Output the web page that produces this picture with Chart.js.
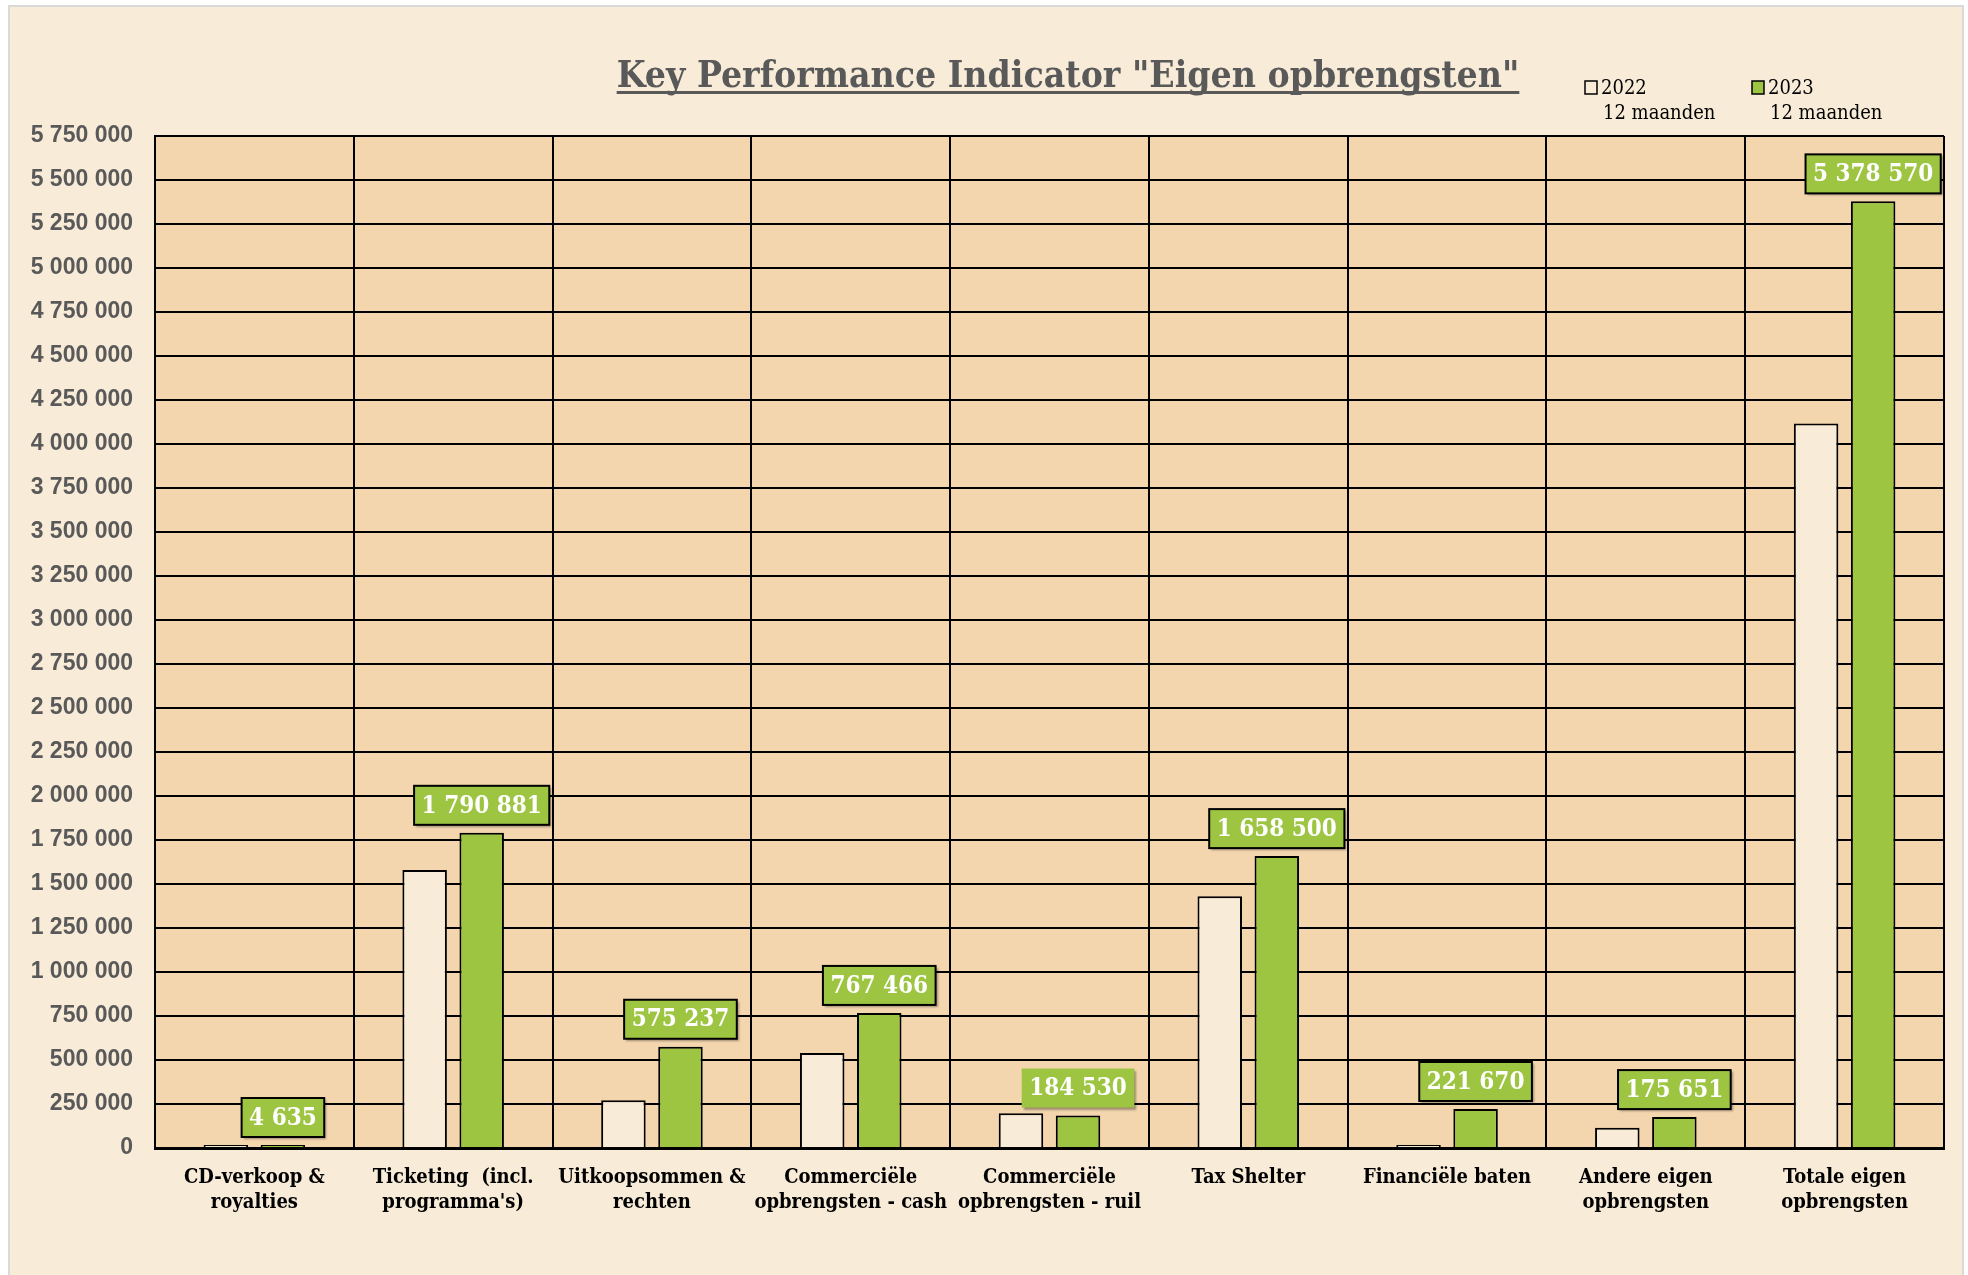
<!DOCTYPE html>
<html>
<head>
<meta charset="utf-8">
<script src="https://cdn.jsdelivr.net/npm/chart.js@4/dist/chart.umd.min.js"></script>
<style>
  html, body { margin: 0; padding: 0; background: #ffffff; }
  #frame {
    position: absolute; left: 8px; top: 5px; width: 1952px; height: 1290px;
    background: #F8EBD8; border: 2px solid #D9D9D9; border-bottom: none;
  }
  #kpi { position: absolute; left: 0; top: 0; }
</style>
</head>
<body>
<div id="frame"></div>
<canvas id="kpi" width="1968" height="1275"></canvas>
<script>
// categorieën en waarden
const categories = [
  ['CD-verkoop &', 'royalties'],
  ['Ticketing  (incl.', "programma's)"],
  ['Uitkoopsommen &', 'rechten'],
  ['Commerciële', 'opbrengsten - cash'],
  ['Commerciële', 'opbrengsten - ruil'],
  'Tax Shelter',
  'Financiële baten',
  ['Andere eigen', 'opbrengsten'],
  ['Totale eigen', 'opbrengsten']
];
const seriesNames = ['2022', '2023'];
const seriesSub = ['12 maanden', '12 maanden'];
const values2022 = [3000, 1579500, 272000, 540000, 197000, 1430000, 2000, 115000, 4116000];
const values2023 = [4635, 1790881, 575237, 767466, 184530, 1658500, 221670, 175651, 5378570];
const yMax = 5750000;
const yStep = 250000;
const chartTitle = 'Key Performance Indicator "Eigen opbrengsten"';

const CREAM = '#F8EBD8';
const TAN = '#F3D5AE';
const GREEN = '#9DC542';
const GREY = '#595959';
const SLAB = "'DejaVu Serif Condensed', 'DejaVu Serif', serif";

// getal met spatie als duizendtal-scheiding
function fmt(v) {
  return Math.round(v).toString().replace(/\B(?=(\d{3})+(?!\d))/g, ' ');
}

// achtergrond van het plotgebied
const plotBackground = {
  id: 'plotBackground',
  beforeDraw(chart) {
    const { ctx, chartArea: a } = chart;
    ctx.save();
    ctx.fillStyle = TAN;
    ctx.fillRect(a.left, a.top, a.right - a.left, a.bottom - a.top);
    ctx.restore();
  }
};

// groene labels boven de 2023-staven
const valueBoxes = {
  id: 'valueBoxes',
  afterDatasetsDraw(chart) {
    const ctx = chart.ctx;
    const meta = chart.getDatasetMeta(1);
    ctx.save();
    ctx.font = "bold 24px " + SLAB;
    if ('fontStretch' in ctx) ctx.fontStretch = 'condensed';
    ctx.textAlign = 'center';
    ctx.textBaseline = 'middle';
    meta.data.forEach((bar, i) => {
      const txt = fmt(values2023[i]);
      const w = ctx.measureText(txt).width + 15;
      const h = 39;
      const x = bar.x - w / 2;
      const y = bar.y - 8 - h;
      ctx.shadowColor = 'rgba(0,0,0,0.35)';
      ctx.shadowOffsetX = 2;
      ctx.shadowOffsetY = 2;
      ctx.shadowBlur = 2;
      ctx.fillStyle = GREEN;
      ctx.fillRect(x, y, w, h);
      ctx.shadowColor = 'transparent';
      if (i !== 4) {
        ctx.strokeStyle = '#000';
        ctx.lineWidth = 2;
        ctx.strokeRect(x, y, w, h);
      }
      ctx.fillStyle = '#ffffff';
      ctx.fillText(txt, bar.x, y + h / 2 + 1);
    });
    ctx.restore();
  }
};

// titel en legende
const titleLegend = {
  id: 'titleLegend',
  afterDraw(chart) {
    const ctx = chart.ctx;
    ctx.save();
    if ('fontStretch' in ctx) ctx.fontStretch = 'condensed';
    ctx.font = "bold 37px " + SLAB;
    ctx.fillStyle = GREY;
    ctx.textAlign = 'left';
    ctx.textBaseline = 'alphabetic';
    const tw = ctx.measureText(chartTitle).width;
    const tx = 1068 - tw / 2;
    ctx.fillText(chartTitle, tx, 87);
    ctx.fillRect(tx, 91, tw, 3);

    const fills = [CREAM, GREEN];
    const boxX = [1585, 1752];
    ctx.font = "20px " + SLAB;
    seriesNames.forEach((name, i) => {
      ctx.fillStyle = fills[i];
      ctx.fillRect(boxX[i], 81, 12, 13);
      ctx.strokeStyle = '#000';
      ctx.lineWidth = 1.5;
      ctx.strokeRect(boxX[i], 81, 12, 13);
      ctx.fillStyle = '#000';
      ctx.fillText(name, boxX[i] + 16, 94);
      ctx.fillText(seriesSub[i], boxX[i] + 18, 119);
    });
    ctx.restore();
  }
};

new Chart(document.getElementById('kpi'), {
  type: 'bar',
  data: {
    labels: categories,
    datasets: [
      {
        label: seriesNames[0],
        data: values2022,
        backgroundColor: CREAM,
        borderColor: '#000',
        borderWidth: 2,
        minBarLength: 3
      },
      {
        label: seriesNames[1],
        data: values2023,
        backgroundColor: GREEN,
        borderColor: '#000',
        borderWidth: 2,
        minBarLength: 3
      }
    ]
  },
  options: {
    responsive: false,
    animation: false,
    devicePixelRatio: 1,
    categoryPercentage: 0.574,
    barPercentage: 0.78,
    layout: { padding: { left: 0, top: 136, right: 24, bottom: 0 } },
    plugins: {
      legend: { display: false },
      title: { display: false },
      tooltip: { enabled: false }
    },
    scales: {
      x: {
        afterFit(scale) { scale.height = 127; },
        grid: { color: '#000', lineWidth: 2, drawTicks: false, offset: true },
        border: { color: '#000', width: 3 },
        ticks: {
          autoSkip: false,
          maxRotation: 0,
          minRotation: 0,
          padding: 17,
          color: '#000',
          font: { family: SLAB, size: 20, weight: 'bold', lineHeight: 1.25 }
        }
      },
      y: {
        min: 0,
        max: yMax,
        afterFit(scale) { scale.width = 155; },
        grid: { color: '#000', lineWidth: 2, drawTicks: false },
        border: { color: '#000', width: 2 },
        ticks: {
          stepSize: yStep,
          padding: 22,
          color: GREY,
          font: { family: "'Liberation Sans', Arial, sans-serif", size: 23, weight: 'bold' },
          callback: v => fmt(v)
        }
      }
    }
  },
  plugins: [plotBackground, valueBoxes, titleLegend]
});
</script>
</body>
</html>
